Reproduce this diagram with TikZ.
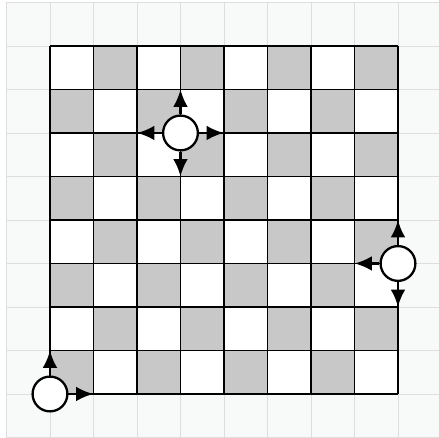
\documentclass[tikz,border=0pt]{standalone}
\usepackage{tikz}
\usetikzlibrary{arrows.meta}
\definecolor{boardgray}{RGB}{200,200,200}
\definecolor{paper}{RGB}{248,249,249}
\definecolor{gridline}{RGB}{222,222,222}

\begin{document}
\begin{tikzpicture}[
  x=1cm, y=1cm,
  backgrid/.style={draw=gridline, line width=0.6pt},
  boardline/.style={draw=black, line width=1.1pt},
  dark/.style={fill=boardgray},
  piece/.style={circle, draw=black, fill=white, line width=1.5pt,
    minimum size=0.8cm, inner sep=0pt},
  move/.style={-{Latex[length=4mm,width=3.4mm]}, line width=1.8pt}
]
\useasboundingbox (-1.149,-1.011) rectangle (8.943,9.057);
\fill[paper] (-1,-1.011) rectangle (8.943,9);
\draw[backgrid] (-1,-1) grid (9,9);

% board
\fill[white] (0,0) rectangle (8,8);
\foreach \c in {0,...,7}
  \foreach \r in {0,...,7} {
    \pgfmathtruncatemacro{\odd}{mod(\c+\r,2)}
    \ifnum\odd=0 \fill[dark] (\c,\r) rectangle ++(1,1); \fi
  }
\draw[boardline] (0,0) grid (8,8);

% pieces
\node[piece] (pieceA) at (3,6) {};
\node[piece] (pieceB) at (8,3) {};
\node[piece] (pieceC) at (0,0) {};

\coordinate (a-up) at (3,7);
\coordinate (a-down) at (3,5);
\coordinate (a-left) at (2,6);
\coordinate (a-right) at (4,6);
\coordinate (b-up) at (8,4);
\coordinate (b-down) at (8,2);
\coordinate (b-left) at (7,3);
\coordinate (c-up) at (0,1);
\coordinate (c-right) at (1,0);

% moves
\foreach \t in {up,down,left,right}
  \draw[move] (pieceA) -- (a-\t);
\foreach \t in {up,down,left}
  \draw[move] (pieceB) -- (b-\t);
\foreach \t in {up,right}
  \draw[move] (pieceC) -- (c-\t);
\end{tikzpicture}
\end{document}
